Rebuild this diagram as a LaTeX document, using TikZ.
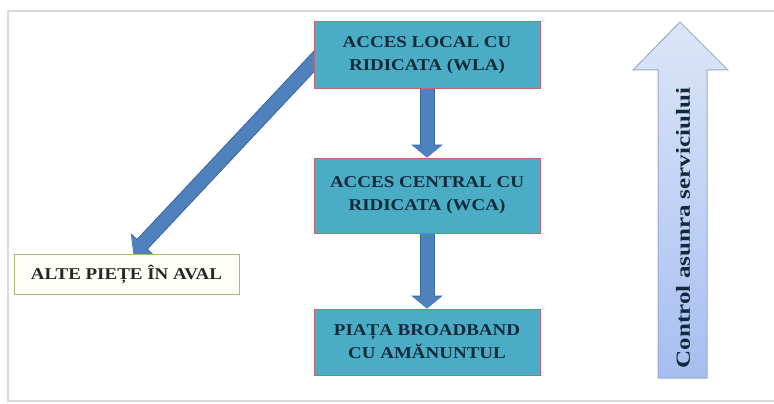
\documentclass[tikz,border=0pt]{standalone}
\usepackage{fontspec}
\setmainfont{Liberation Serif}[FakeStretch=1.15]
\newfontfamily\ctrlfont{Liberation Serif}[FakeStretch=1.25]
\usepackage{xcolor}
\usetikzlibrary{arrows.meta, positioning, backgrounds}

\definecolor{boxteal}{HTML}{4BACC6}
\definecolor{boxedge}{HTML}{C8646E}
\definecolor{boxtext}{HTML}{102A3A}
\definecolor{arrowblue}{HTML}{4F81BD}
\definecolor{arrowedge}{HTML}{3A67A3}
\definecolor{paleedge}{HTML}{A8B878}
\definecolor{framegray}{HTML}{DADADA}
\definecolor{ctrltop}{HTML}{DCE6F8}
\definecolor{ctrlbottom}{HTML}{A6BEF0}
\definecolor{ctrledge}{HTML}{9AABC8}

\begin{document}
\begin{tikzpicture}[
    x=1pt, y=-1pt,
    box/.style={rectangle, draw=boxedge, line width=1pt, fill=boxteal, text=boxtext, font=\bfseries\fontsize{16.5}{23}\selectfont, minimum width=226pt, align=center, inner sep=0pt},
    palebox/.style={box, draw=paleedge, fill=white!97!yellow, text=black!85, minimum width=225pt, minimum height=40pt},
    blockarrow/.style={-{Triangle[length=12pt, width=28pt]}, line width=13pt, draw=arrowblue,
      preaction={draw=arrowedge, line width=15pt, -{Triangle[length=13pt, width=31pt]}}}
  ]
    \useasboundingbox (0,0) rectangle (774,404);
    \draw[framegray, line width=1.5pt] (8,11) rectangle (800,401);

    \node[box, minimum height=67pt] (wla) at (427,55.5) {ACCES LOCAL CU\\RIDICATA (WLA)};
    \node[box, minimum height=75pt, below=68pt of wla] (wca) {ACCES CENTRAL CU\\RIDICATA (WCA)};
    \node[box, minimum height=66pt, below=75pt of wca] (piata) {PIAȚA BROADBAND\\CU AMĂNUNTUL};
    \node[palebox] (alte) at (126.5,274) {ALTE PIEȚE ÎN AVAL};

    \begin{pgfonlayer}{background}
      \draw[blockarrow] ([xshift=6pt]wla.west) -- ([xshift=7pt]alte.north);
    \end{pgfonlayer}
    \draw[blockarrow] (wla) -- (wca);
    \draw[blockarrow] (wca) -- (piata);

    % control arrow
    \shade[top color=ctrltop, bottom color=ctrlbottom, draw=ctrledge, line width=1pt]
      (658,378) -- (707,378) -- (707,70) -- (728,70) -- (680,22) -- (633,70) -- (658,70) -- cycle;
    \node[rotate=90, text=boxtext, font=\ctrlfont\bfseries\fontsize{20}{24}\selectfont] (ctrl) at (683,228) {Control asunra serviciului};
  \end{tikzpicture}
\end{document}
